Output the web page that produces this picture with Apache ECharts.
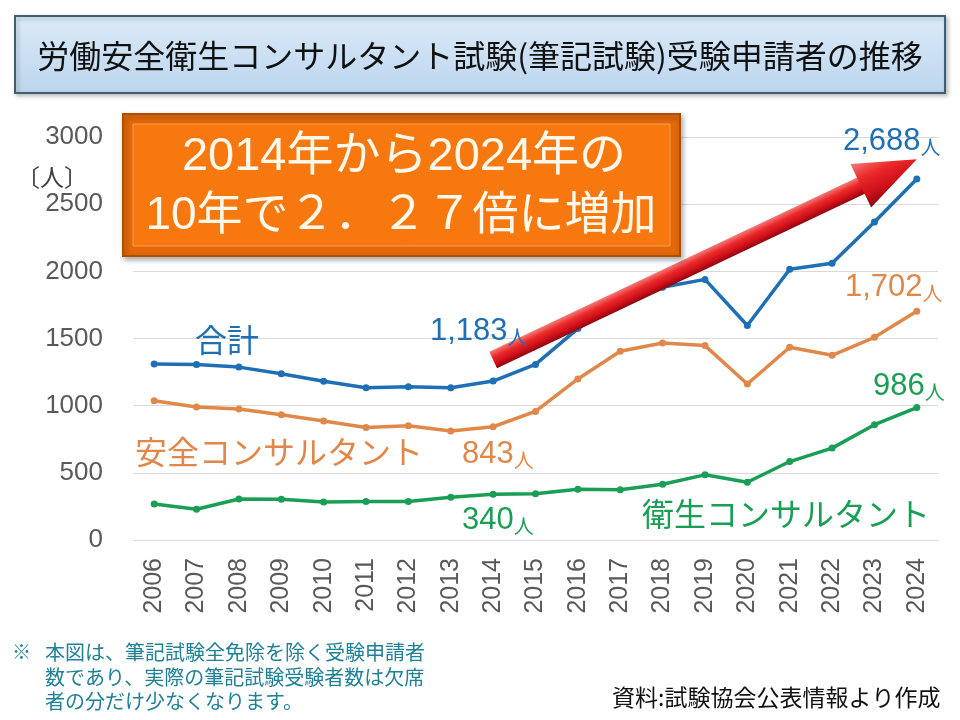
<!DOCTYPE html>
<html>
<head>
<meta charset="utf-8">
<script src="https://cdn.jsdelivr.net/npm/echarts@6/dist/echarts.min.js"></script>
<style>
  html, body { margin: 0; padding: 0; background: #fff; }
  #main { width: 960px; height: 720px; }
</style>
</head>
<body>
<div id="main"></div>
<script>
// 年度
var years = ['2006', '2007', '2008', '2009', '2010', '2011', '2012', '2013', '2014', '2015',
  '2016', '2017', '2018', '2019', '2020', '2021', '2022', '2023', '2024'];
// 合計
var totalData = [1311, 1306, 1287, 1237, 1182, 1133, 1140, 1133, 1183, 1307,
  1574, 1770, 1882, 1940, 1597, 2015, 2060, 2368, 2688];
// 安全コンサルタント
var safetyData = [1037, 990, 975, 933, 886, 838, 850, 811, 843, 957,
  1199, 1405, 1467, 1447, 1161, 1435, 1375, 1509, 1702];
// 衛生コンサルタント
var healthData = [268, 229, 305, 304, 282, 286, 286, 318, 340, 345,
  378, 374, 415, 485, 430, 584, 684, 858, 986];
// y軸目盛
var yMin = 0, yMax = 3000, yStep = 500;
// 矢印 (カテゴリ番号, 値)
var arrowFrom = [8, 1340];
var arrowTo = [18, 2835];

var BLUE = '#1E6FB4', ORANGE = '#E0884A', GREEN = '#1A9E55';
var CJK = '"Noto Sans CJK JP", sans-serif';
var NUM = '"Liberation Sans", "Noto Sans CJK JP", sans-serif';

function fmt(v) {
  return String(v).replace(/\B(?=(\d{3})+(?!\d))/g, ',');
}

function lineSeries(name, data, color) {
  return {
    name: name,
    type: 'line',
    data: data,
    symbol: 'circle',
    symbolSize: 7,
    z: 3,
    itemStyle: { color: color },
    lineStyle: { color: color, width: 3.5 },
    emphasis: { disabled: true }
  };
}

function note(x, y, text, color, size) {
  return {
    type: 'text', x: x, y: y, z: 50,
    style: {
      text: text,
      fill: color,
      font: size + 'px ' + CJK,
      verticalAlign: 'middle'
    }
  };
}

function valueNote(x, y, value, color) {
  return {
    type: 'text', x: x, y: y, z: 50,
    style: {
      text: '{n|' + fmt(value) + '}{u|人}',
      verticalAlign: 'middle',
      rich: {
        n: { fill: color, font: '31px ' + NUM, verticalAlign: 'bottom', lineHeight: 34 },
        u: { fill: color, font: '20px ' + CJK, verticalAlign: 'bottom', lineHeight: 26 }
      }
    }
  };
}

var myChart = echarts.init(document.getElementById('main'), null, { renderer: 'canvas' });

var option = {
  animation: false,
  backgroundColor: '#fff',
  grid: { left: 133, right: 22, top: 137, bottom: 180 },
  xAxis: {
    type: 'category',
    data: years,
    boundaryGap: true,
    axisLine: { show: false },
    axisTick: { show: false },
    axisLabel: {
      rotate: 90,
      margin: 18,
      color: '#595959',
      fontSize: 25,
      fontFamily: 'Liberation Sans'
    }
  },
  yAxis: {
    type: 'value',
    min: yMin,
    max: yMax,
    interval: yStep,
    axisLine: { show: false },
    axisTick: { show: false },
    axisLabel: {
      margin: 30,
      color: '#595959',
      fontSize: 26,
      fontFamily: 'Liberation Sans',
      formatter: function (v) { return String(v); }
    },
    splitLine: { lineStyle: { color: '#D9D9D9', width: 1 } }
  },
  series: [
    lineSeries('合計', totalData, BLUE),
    lineSeries('安全コンサルタント', safetyData, ORANGE),
    lineSeries('衛生コンサルタント', healthData, GREEN)
  ]
};
myChart.setOption(option);

// 矢印の位置をデータ座標から計算
var p1 = myChart.convertToPixel({ gridIndex: 0 }, arrowFrom);
var p2 = myChart.convertToPixel({ gridIndex: 0 }, arrowTo);
var L = Math.sqrt(Math.pow(p2[0] - p1[0], 2) + Math.pow(p2[1] - p1[1], 2));
var ang = Math.atan2(p1[1] - p2[1], p2[0] - p1[0]);
var headLen = 62, headHalf = 24, shaftHalf = 9;

var redGrad = function () {
  return {
    type: 'linear', x: 0, y: 0, x2: 0, y2: 1,
    colorStops: [
      { offset: 0, color: '#F47A7A' },
      { offset: 0.35, color: '#EC2A2A' },
      { offset: 0.7, color: '#D0101A' },
      { offset: 1, color: '#8E0610' }
    ]
  };
};

var graphics = [
  // タイトル枠
  {
    type: 'rect', z: 40,
    shape: { x: 15, y: 16, width: 930, height: 77 },
    style: {
      fill: { type: 'linear', x: 0, y: 0, x2: 0, y2: 1,
        colorStops: [{ offset: 0, color: '#DCEBF8' }, { offset: 1, color: '#BBD5EE' }] },
      stroke: '#3F5F70', lineWidth: 2,
      shadowBlur: 4, shadowColor: 'rgba(0,0,0,0.25)', shadowOffsetX: 2, shadowOffsetY: 2
    }
  },
  {
    type: 'text', x: 480, y: 56, z: 41,
    style: {
      text: '労働安全衛生コンサルタント試験(筆記試験)受験申請者の推移',
      fill: '#111', font: '32px ' + CJK, align: 'center', verticalAlign: 'middle'
    }
  },
  // オレンジ枠
  {
    type: 'rect', z: 40,
    shape: { x: 123, y: 114, width: 557, height: 142 },
    style: {
      fill: '#E2680A', stroke: '#B04E00', lineWidth: 2,
      shadowBlur: 5, shadowColor: 'rgba(0,0,0,0.3)', shadowOffsetX: 2, shadowOffsetY: 3
    }
  },
  {
    type: 'rect', z: 41,
    shape: { x: 133, y: 124, width: 537, height: 122 },
    style: { fill: '#F6780E', stroke: '#FB9A4A', lineWidth: 1 }
  },
  {
    type: 'text', x: 404, y: 157, z: 42,
    style: {
      text: '2014年から2024年の',
      fill: '#FFF8EC', font: '47px ' + NUM, align: 'center', verticalAlign: 'middle'
    }
  },
  {
    type: 'text', x: 401, y: 216, z: 42,
    style: {
      text: '10年で２．２７倍に増加',
      fill: '#FFF8EC', font: '46px ' + NUM, align: 'center', verticalAlign: 'middle'
    }
  },
  // 赤い矢印
  {
    type: 'group', x: p1[0], y: p1[1], rotation: ang, z: 30,
    children: [
      {
        type: 'rect', z: 30,
        shape: { x: 0, y: -shaftHalf, width: L - headLen + 2, height: shaftHalf * 2 },
        style: { fill: redGrad() }
      },
      {
        type: 'polygon', z: 30,
        shape: { points: [[L - headLen, -headHalf], [L, 0], [L - headLen, headHalf]] },
        style: { fill: redGrad() }
      }
    ]
  },
  // 単位
  note(16, 177, '〔人〕', '#404040', 24),
  // 系列名
  note(195, 340, '合計', BLUE, 32),
  note(135, 452, '安全コンサルタント', ORANGE, 32),
  note(642, 514, '衛生コンサルタント', GREEN, 32),
  // 値
  valueNote(430, 330, totalData[8], BLUE),
  valueNote(843, 140, totalData[18], BLUE),
  valueNote(845, 286, safetyData[18], ORANGE),
  valueNote(462, 453, safetyData[8], ORANGE),
  valueNote(873, 385, healthData[18], GREEN),
  valueNote(462, 519, healthData[8], GREEN),
  // 注記
  note(12, 652, '※', '#1F8096', 19),
  note(45, 652, '本図は、筆記試験全免除を除く受験申請者', '#1F8096', 20),
  note(45, 677, '数であり、実際の筆記試験受験者数は欠席', '#1F8096', 20),
  note(45, 701, '者の分だけ少なくなります。', '#1F8096', 20),
  note(612, 697, '資料:試験協会公表情報より作成', '#111', 23)
];

myChart.setOption({ graphic: graphics });

window.addEventListener('resize', function () {
  myChart.resize();
});
</script>
</body>
</html>
